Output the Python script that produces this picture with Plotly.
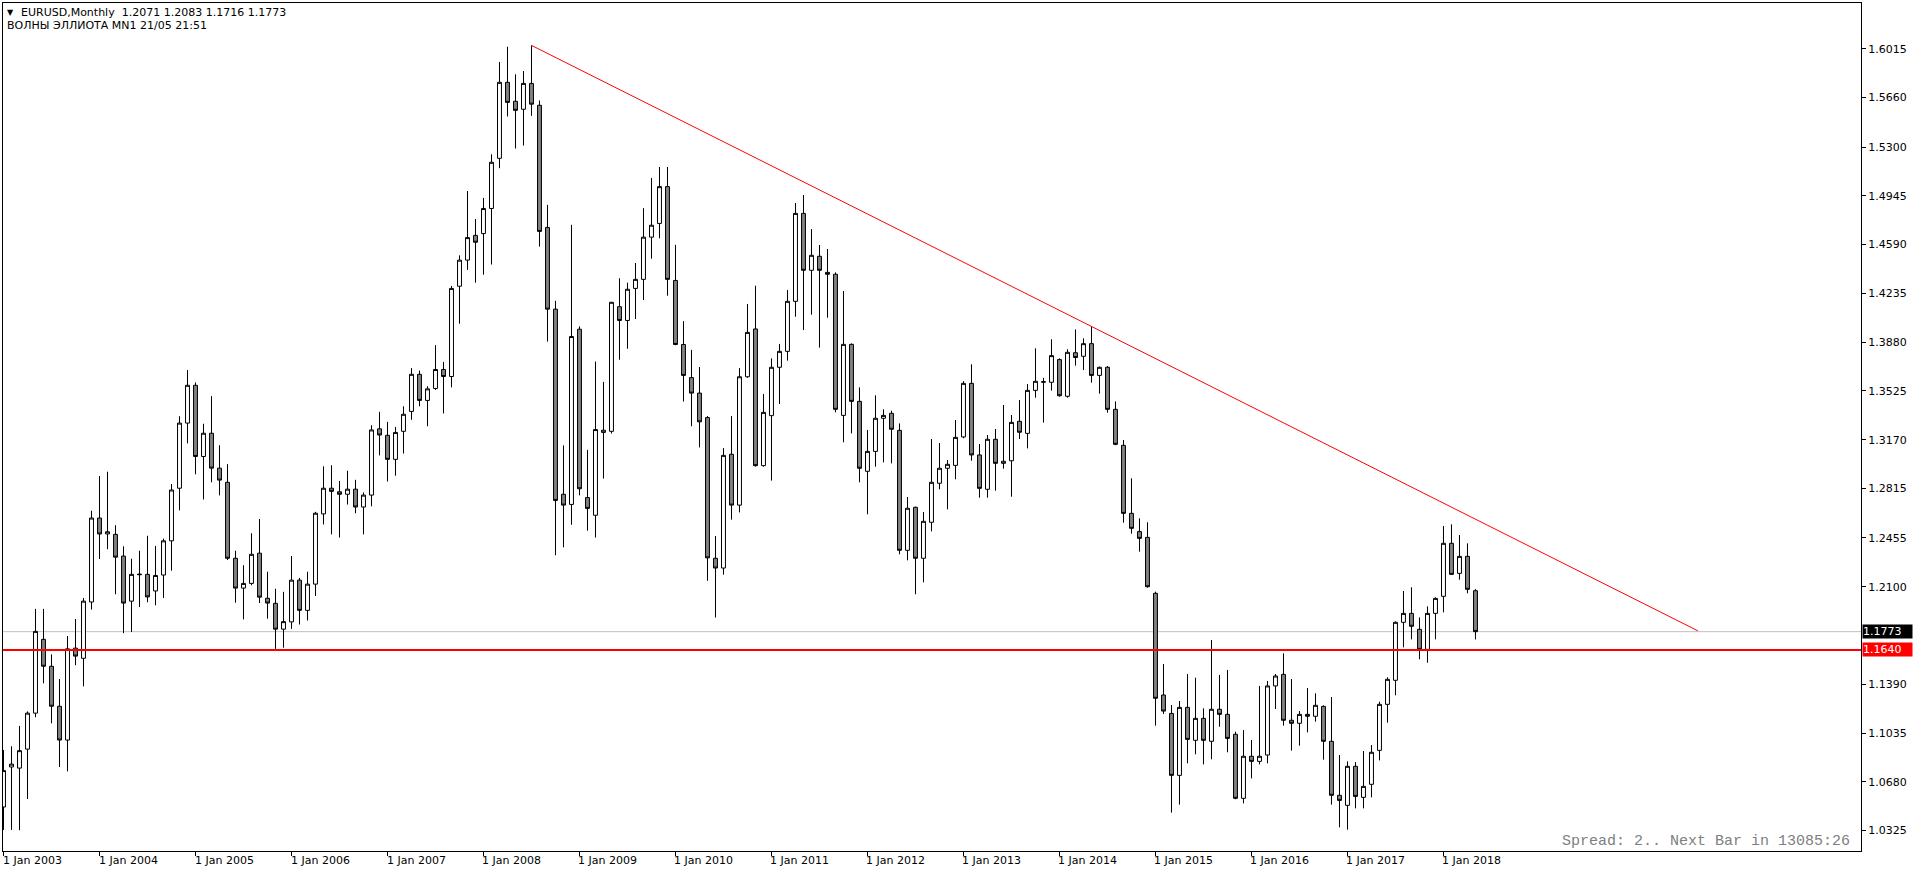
import pandas as pd
import plotly.graph_objects as go

# ---------------- data ----------------
months = [d.strftime("%Y-%m") for d in pd.date_range("2003-01-01", "2018-05-01", freq="MS")]

opens = [1.0497,1.0788,1.0780,1.0918,1.1180,1.1717,1.1521,1.1230,1.0984,1.1653,1.1579,1.1989,
         1.2600,1.2484,1.2481,1.2323,1.1995,1.2192,1.2190,1.2069,1.2185,1.2434,1.2817,1.3291,
         1.3566,1.3048,1.3217,1.2963,1.2860,1.2307,1.2090,1.2124,1.2344,1.2016,1.1979,1.1791,
         1.1844,1.2148,1.1928,1.2119,1.2630,1.2817,1.2791,1.2773,1.2810,1.2680,1.2767,1.3249,
         1.3202,1.3027,1.3231,1.3376,1.3646,1.3456,1.3543,1.3681,1.3630,1.4287,1.4477,1.4657,
         1.4670,1.4853,1.5218,1.5771,1.5633,1.5575,1.5763,1.5604,1.4715,1.4120,1.2773,1.2699,
         1.3974,1.2749,1.2620,1.3223,1.3231,1.4138,1.4038,1.4271,1.4337,1.4644,1.4744,1.5012,
         1.4329,1.3863,1.3622,1.3509,1.3331,1.2307,1.2236,1.3064,1.2694,1.3628,1.3976,1.2981,
         1.3345,1.3697,1.3813,1.4177,1.4817,1.4403,1.4505,1.4388,1.4374,1.3347,1.3864,1.3449,
         1.2940,1.3085,1.3326,1.3362,1.3238,1.2365,1.2678,1.2307,1.2569,1.2853,1.2962,1.2983,
         1.3190,1.3580,1.3059,1.2809,1.3173,1.2998,1.3017,1.3304,1.3216,1.3529,1.3588,1.3588,
         1.3753,1.3486,1.3803,1.3777,1.3869,1.3638,1.3697,1.3391,1.3129,1.2634,1.2501,1.2459,
         1.2052,1.1312,1.1178,1.0727,1.1222,1.0982,1.1142,1.0975,1.1208,1.1171,1.1026,1.0560,
         1.0866,1.0829,1.0875,1.1378,1.1462,1.1128,1.1106,1.1171,1.1157,1.1229,1.0975,1.0582,
         1.0509,1.0793,1.0567,1.0662,1.0909,1.1244,1.1419,1.1841,1.1906,1.1790,1.1644,1.1906,
         1.2030,1.2416,1.2197,1.2321,1.2071]
highs = [1.0912,1.0939,1.1087,1.1193,1.1939,1.1939,1.1608,1.1428,1.1741,1.1865,1.2018,1.2653,
         1.2905,1.2937,1.2548,1.2394,1.2304,1.2362,1.2471,1.2397,1.2450,1.2847,1.3341,1.3677,
         1.3587,1.3286,1.3487,1.3130,1.2992,1.2362,1.2257,1.2489,1.2593,1.2209,1.2085,1.2063,
         1.2323,1.2164,1.2209,1.2645,1.2976,1.2984,1.2870,1.2944,1.2878,1.2786,1.3275,1.3373,
         1.3300,1.3263,1.3413,1.3691,1.3673,1.3559,1.3858,1.3736,1.4289,1.4512,1.4980,1.4776,
         1.4930,1.5247,1.5919,1.6030,1.5829,1.5853,1.6040,1.5639,1.4879,1.4181,1.3128,1.4734,
         1.3995,1.3096,1.3739,1.3591,1.4173,1.4345,1.4313,1.4456,1.4855,1.5075,1.5155,1.5155,
         1.4588,1.4033,1.3824,1.3699,1.3342,1.2469,1.3109,1.3342,1.3691,1.4158,1.4291,1.3503,
         1.3762,1.3867,1.4260,1.4893,1.4951,1.4703,1.4587,1.4558,1.4388,1.4252,1.3871,1.3551,
         1.3241,1.3493,1.3391,1.3381,1.3289,1.2753,1.2683,1.2644,1.3175,1.3146,1.3022,1.3313,
         1.3596,1.3719,1.3139,1.3204,1.3248,1.3423,1.3350,1.3459,1.3575,1.3835,1.3620,1.3901,
         1.3762,1.3828,1.3973,1.3908,1.3997,1.3702,1.3706,1.3449,1.3168,1.2889,1.2598,1.2569,
         1.2064,1.1538,1.1239,1.1268,1.1465,1.1438,1.1215,1.1712,1.1458,1.1494,1.1045,1.1057,
         1.0985,1.1378,1.1414,1.1465,1.1615,1.1428,1.1195,1.1363,1.1324,1.1237,1.1297,1.0875,
         1.0829,1.0824,1.0904,1.0948,1.1263,1.1441,1.1848,1.2069,1.2096,1.1877,1.1957,1.2023,
         1.2542,1.2554,1.2476,1.2416,1.2083]
lows = [1.0330,1.0330,1.0328,1.0555,1.1150,1.1397,1.1106,1.0788,1.0756,1.1529,1.1375,1.1934,
        1.2302,1.2373,1.2045,1.1762,1.1770,1.1952,1.1987,1.1965,1.2018,1.2217,1.2656,1.3143,
        1.2918,1.2735,1.2860,1.2765,1.2294,1.1984,1.1862,1.2111,1.1981,1.1868,1.1648,1.1656,
        1.1793,1.1825,1.1854,1.2032,1.2553,1.2481,1.2458,1.2698,1.2635,1.2481,1.2685,1.3056,
        1.2866,1.2908,1.3069,1.3315,1.3413,1.3268,1.3532,1.3361,1.3551,1.4014,1.4406,1.4313,
        1.4371,1.4445,1.5146,1.5522,1.5289,1.5311,1.5527,1.4575,1.3884,1.2329,1.2387,1.2551,
        1.2765,1.2508,1.2458,1.2887,1.3215,1.3752,1.3832,1.4048,1.4186,1.4488,1.4636,1.4218,
        1.3858,1.3448,1.3268,1.3114,1.2143,1.1876,1.2188,1.2588,1.2641,1.3620,1.2974,1.2974,
        1.2872,1.3430,1.3745,1.4065,1.3968,1.4080,1.3840,1.4058,1.3369,1.3151,1.3216,1.2860,
        1.2627,1.2974,1.3005,1.2998,1.2336,1.2292,1.2045,1.2132,1.2503,1.2809,1.2663,1.2882,
        1.3180,1.3017,1.2748,1.2748,1.2799,1.2959,1.2755,1.3175,1.3107,1.3476,1.3294,1.3527,
        1.3483,1.3476,1.3709,1.3677,1.3585,1.3505,1.3367,1.3130,1.2566,1.2486,1.2355,1.2093,
        1.1089,1.1174,1.0456,1.0514,1.0815,1.0880,1.0807,1.0844,1.1081,1.0895,1.0553,1.0523,
        1.0705,1.0807,1.0815,1.1210,1.1089,1.0907,1.0943,1.1040,1.1118,1.0841,1.0514,1.0349,
        1.0332,1.0487,1.0487,1.0567,1.0836,1.1111,1.1310,1.1659,1.1717,1.1572,1.1547,1.1717,
        1.1914,1.2187,1.2151,1.2052,1.1716]
closes = [1.0762,1.0809,1.0907,1.1180,1.1775,1.1521,1.1230,1.0984,1.1648,1.1595,1.1995,1.2600,
          1.2484,1.2500,1.2315,1.1981,1.2190,1.2188,1.2026,1.2182,1.2434,1.2804,1.3291,1.3566,
          1.3048,1.3217,1.2963,1.2876,1.2307,1.2090,1.2124,1.2336,1.2024,1.1981,1.1791,1.1846,
          1.2148,1.1928,1.2119,1.2635,1.2817,1.2794,1.2773,1.2810,1.2680,1.2767,1.3241,1.3204,
          1.3027,1.3223,1.3355,1.3646,1.3456,1.3540,1.3681,1.3630,1.4271,1.4477,1.4641,1.4607,
          1.4853,1.5189,1.5771,1.5625,1.5567,1.5763,1.5612,1.4686,1.4120,1.2728,1.2694,1.3921,
          1.2813,1.2670,1.3244,1.3239,1.4170,1.4038,1.4265,1.4337,1.4644,1.4731,1.5012,1.4337,
          1.3863,1.3638,1.3509,1.3300,1.2310,1.2236,1.3056,1.2694,1.3628,1.3951,1.2981,1.3369,
          1.3697,1.3813,1.4177,1.4817,1.4403,1.4512,1.4403,1.4374,1.3391,1.3864,1.3449,1.2962,
          1.3085,1.3326,1.3347,1.3246,1.2365,1.2671,1.2307,1.2576,1.2860,1.2962,1.2991,1.3187,
          1.3580,1.3059,1.2816,1.3173,1.2998,1.3013,1.3296,1.3224,1.3529,1.3595,1.3592,1.3782,
          1.3490,1.3806,1.3768,1.3869,1.3638,1.3697,1.3391,1.3136,1.2634,1.2525,1.2452,1.2100,
          1.1288,1.1195,1.0727,1.1222,1.0989,1.1142,1.0982,1.1208,1.1171,1.0996,1.0560,1.0866,
          1.0829,1.0866,1.1378,1.1450,1.1128,1.1106,1.1171,1.1157,1.1237,1.0975,1.0582,1.0545,
          1.0793,1.0574,1.0647,1.0895,1.1244,1.1426,1.1841,1.1906,1.1812,1.1644,1.1906,1.2015,
          1.2416,1.2190,1.2321,1.2081,1.1773]

price_ticks = [1.0325, 1.0680, 1.1035, 1.1390, 1.2100, 1.2455, 1.2815, 1.3170,
               1.3525, 1.3880, 1.4235, 1.4590, 1.4945, 1.5300, 1.5660, 1.6015]

bid_price = 1.1773
level_price = 1.1640
trend_x = [66, 211.8]          # month index of the two anchors (Jul 2008 .. ~Aug 2020)
trend_y = [1.6040, 1.1779]

title_line1 = "EURUSD,Monthly\u00a0\u00a01.2071 1.2083 1.1716 1.1773"
title_line2 = "ВОЛНЫ ЭЛЛИОТА MN1 21/05 21:51"
footer_text = "Spread: 2.. Next Bar in 13085:26"

# ---------------- figure ----------------
idx = list(range(len(months)))
FONT = "DejaVu Sans"

fig = go.Figure()
fig.add_trace(go.Candlestick(
    x=idx, open=opens, high=highs, low=lows, close=closes,
    increasing=dict(fillcolor="#FFFFFF", line=dict(color="#000000", width=1)),
    decreasing=dict(fillcolor="#808080", line=dict(color="#000000", width=1)),
    whiskerwidth=0, hoverinfo="skip", showlegend=False,
))
fig.add_trace(go.Scatter(
    x=trend_x, y=trend_y, mode="lines",
    line=dict(color="#FF0000", width=1), hoverinfo="skip", showlegend=False,
))

fig.add_shape(type="line", xref="paper", x0=0, x1=1, yref="y", y0=bid_price, y1=bid_price,
              line=dict(color="#C0C0C0", width=1), layer="below")
fig.add_shape(type="line", xref="paper", x0=0, x1=1, yref="y", y0=level_price, y1=level_price,
              line=dict(color="#FF0000", width=2), layer="above")

jan_idx = [i for i, m in enumerate(months) if m.endswith("-01")]
jan_txt = ["1 Jan " + months[i][:4] for i in jan_idx]

annotations = []
for i, t in zip(jan_idx, jan_txt):
    annotations.append(dict(x=i, xref="x", y=0, yref="paper", text=t, showarrow=False,
                            xanchor="left", yanchor="middle", xshift=-2, yshift=-9,
                            font=dict(family=FONT, size=11, color="#000000"),
                            borderpad=0))

for val, bg in [(bid_price, "#000000"), (level_price, "#FF0000")]:
    annotations.append(dict(x=1, xref="paper", y=val, yref="y", text=f"{val:.4f}",
                            showarrow=False, xanchor="left", yanchor="middle", xshift=1,
                            bgcolor=bg, width=49, height=13, align="left", borderpad=0,
                            font=dict(family=FONT, size=11, color="#FFFFFF")))

annotations.append(dict(x=0, xref="paper", y=1, yref="paper", text="▼", showarrow=False,
                        xanchor="left", yanchor="middle", xshift=3, yshift=-9,
                        font=dict(family=FONT, size=8, color="#000000"), borderpad=0))
annotations.append(dict(x=0, xref="paper", y=1, yref="paper", text=title_line1, showarrow=False,
                        xanchor="left", yanchor="middle", xshift=17, yshift=-9,
                        font=dict(family=FONT, size=11, color="#000000"), borderpad=0))
annotations.append(dict(x=0, xref="paper", y=1, yref="paper", text=title_line2, showarrow=False,
                        xanchor="left", yanchor="middle", xshift=3, yshift=-22,
                        font=dict(family=FONT, size=11, color="#000000"), borderpad=0))
annotations.append(dict(x=1, xref="paper", y=0, yref="paper", text=footer_text, showarrow=False,
                        xanchor="right", yanchor="middle", xshift=-10, yshift=10,
                        font=dict(family="Liberation Mono", size=15, color="#808080"),
                        borderpad=0))

fig.update_layout(
    width=1914, height=874,
    margin=dict(l=3, r=53, t=3, b=23, pad=0),
    paper_bgcolor="#FFFFFF", plot_bgcolor="#FFFFFF",
    showlegend=False, hovermode=False,
    font=dict(family=FONT, size=11, color="#000000"),
    annotations=annotations,
    boxgap=0.3, boxgroupgap=0.3,
    xaxis=dict(range=[-0.0625, 232.19], showgrid=False, zeroline=False,
               showline=True, mirror=True, linecolor="#000000", linewidth=1,
               ticks="outside", ticklen=4, tickcolor="#000000", tickwidth=1,
               tickmode="array", tickvals=jan_idx, showticklabels=False,
               rangeslider=dict(visible=False), fixedrange=True),
    yaxis=dict(side="right", range=[1.01766, 1.63483], showgrid=False, zeroline=False,
               showline=True, mirror=True, linecolor="#000000", linewidth=1,
               ticks="outside", ticklen=4, tickcolor="#000000", tickwidth=1,
               tickmode="array", tickvals=price_ticks,
               ticktext=[f"{v:.4f}" for v in price_ticks],
               tickfont=dict(family=FONT, size=11, color="#000000"), fixedrange=True),
)

fig.write_html("out.html")
